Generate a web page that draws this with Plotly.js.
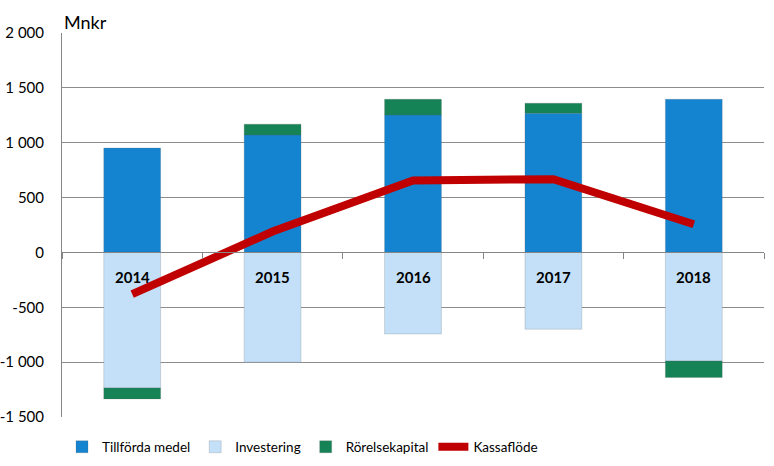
<!DOCTYPE html>
<html>
<head>
<meta charset="utf-8">
<script src="https://cdn.plot.ly/plotly-3.0.1.min.js"></script>
<style>html,body{margin:0;padding:0;background:#fff;}#chart{width:774px;height:466px;}</style>
</head>
<body>
<div id="chart"></div>
<script>
const years = ['2014', '2015', '2016', '2017', '2018'];
const tillforda = [952, 1071, 1253, 1269, 1396];
const investering = [-1235, -1000, -743, -700, -990];
const rorelsekapital = [-100, 98, 143, 91, -150];
const kassaflode = [-380, 190, 655, 668, 257];
const yTickVals = [-1500, -1000, -500, 0, 500, 1000, 1500, 2000];
const yTickText = ['-1 500', '-1 000', '-500', '0', '500', '1 000', '1 500', '2 000'];
const yearLabelY = -220;

const FONT = 'Lato, "Open Sans", sans-serif';
const barLine = {color: 'rgba(90,90,90,0.35)', width: 0.6};

const traces = [
  {type: 'bar', name: 'Tillförda medel', x: years, y: tillforda,
   marker: {color: '#1484d0', line: barLine}},
  {type: 'bar', name: 'Investering', x: years, y: investering,
   marker: {color: '#c3e0f8', line: barLine}},
  {type: 'bar', name: 'Rörelsekapital', x: years, y: rorelsekapital,
   marker: {color: '#168357', line: barLine}},
  {type: 'scatter', mode: 'lines', name: 'Kassaflöde', x: years, y: kassaflode,
   line: {color: '#c00000', width: 8}}
];

const annotations = years.map((y, i) => ({
  x: i, y: yearLabelY, xref: 'x', yref: 'y', text: '<b>' + y + '</b>',
  showarrow: false, font: {family: FONT, size: 15, color: '#000'}
}));
annotations.push({
  xref: 'paper', yref: 'paper', x: 0, y: 1, xanchor: 'left', yanchor: 'bottom',
  text: 'Mnkr', showarrow: false, font: {family: FONT, size: 18, color: '#000'}, yshift: -2
});

const layout = {
  width: 774, height: 466,
  margin: {l: 62, r: 10, t: 33, b: 49},
  paper_bgcolor: '#fff', plot_bgcolor: '#fff',
  barmode: 'relative', bargap: 0.595,
  font: {family: FONT, size: 15, color: '#000'},
  showlegend: true,
  legend: {orientation: 'h', x: 0.0, xanchor: 'left', yref: 'container', y: 19 / 466, yanchor: 'middle',
           font: {family: FONT, size: 13.5, color: '#000'}, traceorder: 'normal'},
  xaxis: {type: 'category', range: [-0.5, 4.5], autorange: false,
          showticklabels: false, showgrid: false, zeroline: false,
          showline: true, linecolor: '#868686', linewidth: 1,
          ticks: 'outside', tickson: 'boundaries', ticklen: 6, tickcolor: '#868686',
          anchor: 'free', position: 1500 / 3500},
  yaxis: {range: [-1500, 2000], autorange: false, tickvals: yTickVals, ticktext: yTickText,
          showgrid: true, gridcolor: '#8c8c8c', gridwidth: 1, zeroline: false,
          showline: true, linecolor: '#868686', linewidth: 1, ticks: '',
          ticklabelstandoff: 14, tickfont: {family: FONT, size: 15, color: '#000'}},
  annotations: annotations
};

Plotly.newPlot('chart', traces, layout, {displayModeBar: false, staticPlot: true});
</script>
</body>
</html>
